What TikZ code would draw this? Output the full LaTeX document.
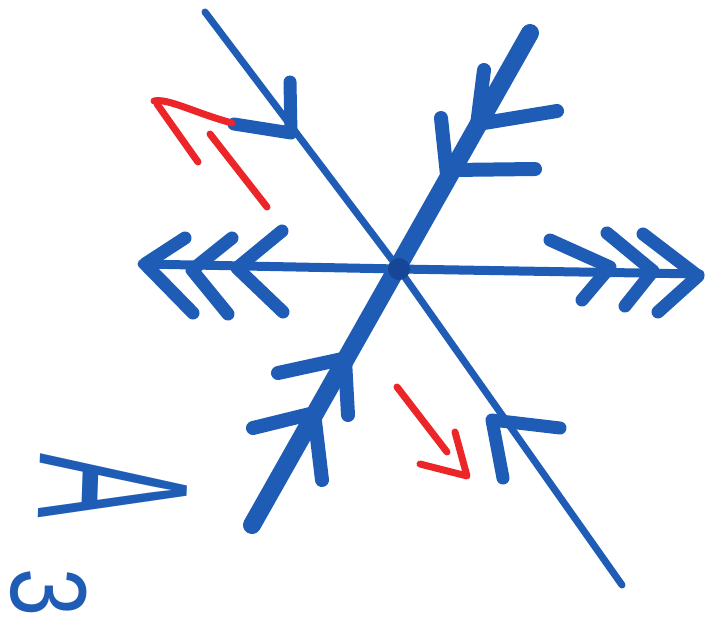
\documentclass[tikz,border=0pt]{standalone}
\usepackage{fontspec}
\setmainfont{Liberation Sans}
\begin{document}
\begin{tikzpicture}[x=1pt,y=-1pt,line cap=round,line join=round]
\definecolor{mblue}{RGB}{30,92,182}
\definecolor{dblue}{RGB}{22,70,150}
\definecolor{mred}{RGB}{236,38,40}
\tikzset{
  thinline/.style={mblue,line width=7pt},
  midline/.style={mblue,line width=9pt},
  thickline/.style={mblue,line width=18pt},
  chev/.style={mblue,line width=13pt},
  stub/.style={mblue,line width=14pt},
  redpen/.style={mred,line width=7pt},
  letter/.style={text=mblue,inner sep=0pt},
}
\useasboundingbox (0,0) rectangle (710,625);
\fill[white] (0,0) rectangle (710,625);
\coordinate (c) at (399,269);
% thin diagonal
\coordinate (t1) at (205,12);
\coordinate (t2) at (622,585);
\draw[thinline] (t1) -- (c) -- (t2);
% horizontal
\coordinate (h1) at (142,264);
\coordinate (h2) at (700,274);
\draw[midline] (h1) -- (c) -- (h2);
% thick diagonal
\coordinate (d1) at (530,33);
\coordinate (d2) at (252,525);
\draw[thickline] (d1) -- (d2);
% upper features
\draw[stub] (484,70) -- (477,125);
\draw[stub] (478,124) -- (557,111);
\draw[stub] (441,118) -- (447,175);
\draw[stub] (451,170) -- (535,169);
% lower features
\draw[stub] (278,373) -- (347,358);
\draw[stub] (345,360) -- (348,415);
\draw[stub] (253,428) -- (314,413);
\draw[stub] (314,413) -- (322,480);
% left chevrons
\draw[chev] (185,238) -- (145,264) -- (193,313);
\draw[chev] (232,238) -- (192,270) -- (228,314);
\draw[chev] (282,231) -- (237,268) -- (283,312);
% right chevrons
\draw[chev] (550,240) -- (610,267) -- (582,300);
\draw[chev] (607,233) -- (653,271) -- (625,306);
\draw[chev] (643,234) -- (698,276) -- (658,312);
% chevrons on thin line
\draw[chev] (290,82) -- (291,133) -- (234,124);
\draw[chev] (503,478) -- (492,420) -- (560,428);
% center blob
\fill[dblue] (c) circle (11pt);
% red arrows
\draw[redpen] (232,123) .. controls (195,113) and (168,98) .. (154,101);
\draw[redpen] (157,104) -- (198,162);
\draw[redpen] (210,134) -- (267,207);
\draw[redpen] (397,387) -- (447,452);
\draw[redpen] (455,432) -- (467,476) -- (420,464);
% label
\node[letter,font=\fontsize{215}{215}\selectfont,rotate=-92,xscale=0.45] (A) at (113,488) {A};
\node[letter,font=\fontsize{108}{108}\selectfont,rotate=-90,xscale=0.8] (three) at (49,593) {3};
\end{tikzpicture}
\end{document}
